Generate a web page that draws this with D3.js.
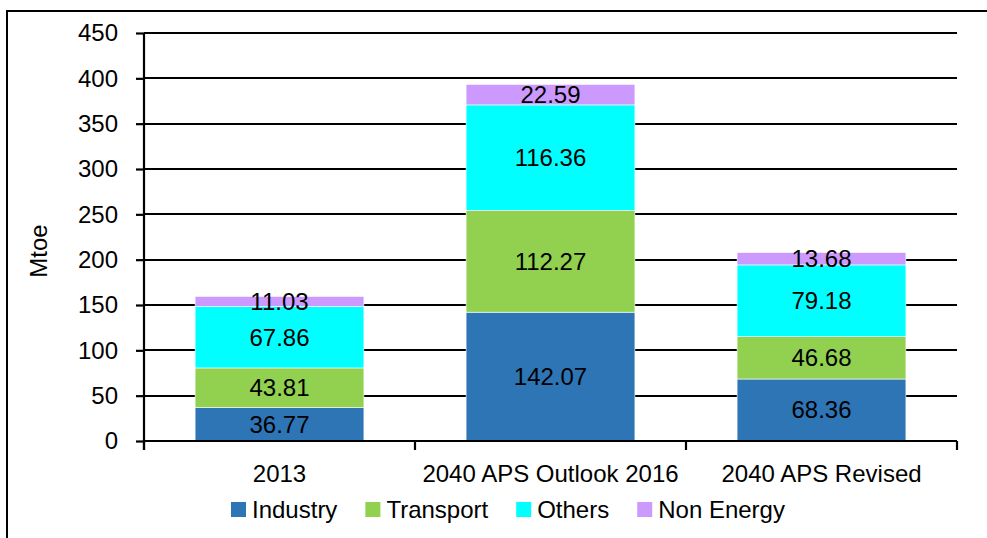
<!DOCTYPE html>
<html>
<head>
<meta charset="utf-8">
<script src="https://cdn.jsdelivr.net/npm/d3@7"></script>
<style>
  body { margin: 0; background: #fff; }
  svg { display: block; font-family: "Liberation Sans", Arial, sans-serif; }
</style>
</head>
<body>
<svg width="987" height="538"></svg>
<script>
var categories = ["2013", "2040 APS Outlook 2016", "2040 APS Revised"];
var seriesNames = ["Industry", "Transport", "Others", "Non Energy"];
var industry = [36.77, 142.07, 68.36];
var transport = [43.81, 112.27, 46.68];
var others = [67.86, 116.36, 79.18];
var nonEnergy = [11.03, 22.59, 13.68];
var yTicks = [0, 50, 100, 150, 200, 250, 300, 350, 400, 450];
var colors = ["#2E75B6", "#92D050", "#00FFFF", "#CC99FF"];

var svg = d3.select("svg"),
  width = +svg.attr("width"),
  height = +svg.attr("height");

var rows = categories.map(function (c, i) {
  return { cat: c, "Industry": industry[i], "Transport": transport[i], "Others": others[i], "Non Energy": nonEnergy[i] };
});

var plotLeft = 144, plotRight = 957, plotTop = 33, plotBottom = 441;
var fontSize = 24;

var x = d3.scaleBand().domain(categories).range([plotLeft, plotRight]);
var y = d3.scaleLinear().domain([0, 450]).range([plotBottom, plotTop]);
var color = d3.scaleOrdinal().domain(seriesNames).range(colors);
var barW = x.bandwidth() * 0.623;

// outer frame
svg.append("rect")
  .attr("x", 7).attr("y", 11)
  .attr("width", 1000).attr("height", 600)
  .attr("fill", "none").attr("stroke", "#000").attr("stroke-width", 2);

// gridlines
svg.append("g")
  .selectAll("line")
  .data(yTicks.filter(function (d) { return d > 0; }))
  .enter().append("line")
  .attr("x1", plotLeft).attr("x2", plotRight)
  .attr("y1", function (d) { return Math.round(y(d)); })
  .attr("y2", function (d) { return Math.round(y(d)); })
  .attr("stroke", "#000").attr("stroke-width", 2.2);

// bars
var stack = d3.stack().keys(seriesNames)(rows);

var layer = svg.append("g")
  .selectAll("g")
  .data(stack)
  .enter().append("g")
  .attr("fill", function (d) { return color(d.key); });

layer.selectAll("rect")
  .data(function (d) { return d; })
  .enter().append("rect")
  .attr("x", function (d) { return x(d.data.cat) + (x.bandwidth() - barW) / 2; })
  .attr("width", barW)
  .attr("y", function (d) { return y(d[1]); })
  .attr("height", function (d) { return y(d[0]) - y(d[1]); })
  .attr("stroke", "#fff").attr("stroke-width", 0.6);

layer.selectAll("text")
  .data(function (d) { return d; })
  .enter().append("text")
  .attr("x", function (d) { return x(d.data.cat) + x.bandwidth() / 2; })
  .attr("y", function (d) { return (y(d[0]) + y(d[1])) / 2; })
  .attr("dy", "0.35em")
  .attr("text-anchor", "middle")
  .attr("font-size", fontSize)
  .attr("fill", "#000")
  .text(function (d) { return d3.format(".2f")(d[1] - d[0]); });

// y axis
var yAxis = svg.append("g")
  .attr("transform", "translate(" + plotLeft + ",0)")
  .call(d3.axisLeft(y).tickValues(yTicks).tickSize(8).tickPadding(18));
yAxis.select(".domain").attr("stroke", "#000").attr("stroke-width", 2.2)
  .attr("d", "M0," + (plotBottom + 9) + "V" + plotTop);
yAxis.selectAll(".tick line").attr("stroke", "#000").attr("stroke-width", 2.2);
yAxis.selectAll(".tick text")
  .attr("font-size", fontSize)
  .attr("font-family", "Liberation Sans, Arial, sans-serif")
  .attr("fill", "#000");

// x axis
var xAxis = svg.append("g")
  .attr("transform", "translate(0," + plotBottom + ")")
  .call(d3.axisBottom(x).tickSize(0).tickPadding(24));
xAxis.select(".domain").attr("stroke", "#000").attr("stroke-width", 2.2)
  .attr("d", "M" + plotLeft + ",0H" + plotRight);
xAxis.selectAll(".tick text")
  .attr("font-size", fontSize)
  .attr("font-family", "Liberation Sans, Arial, sans-serif")
  .attr("fill", "#000");

var bounds = [plotLeft].concat(categories.map(function (c) { return x(c) + x.bandwidth(); }));
svg.append("g")
  .selectAll("line")
  .data(bounds)
  .enter().append("line")
  .attr("x1", function (d) { return d; })
  .attr("x2", function (d) { return d; })
  .attr("y1", plotBottom).attr("y2", plotBottom + 9)
  .attr("stroke", "#000").attr("stroke-width", 2.2);

// y title
svg.append("text")
  .attr("transform", "translate(47,251) rotate(-90)")
  .attr("text-anchor", "middle")
  .attr("font-size", fontSize)
  .text("Mtoe");

// legend
var legend = svg.append("g");
var lx = 231;
seriesNames.forEach(function (name) {
  legend.append("rect")
    .attr("x", lx).attr("y", 502)
    .attr("width", 15).attr("height", 15)
    .attr("fill", color(name));
  var t = legend.append("text")
    .attr("x", lx + 21).attr("y", 510)
    .attr("dy", "0.35em")
    .attr("font-size", fontSize)
    .text(name);
  lx += 21 + t.node().getComputedTextLength() + 28;
});
</script>
</body>
</html>
